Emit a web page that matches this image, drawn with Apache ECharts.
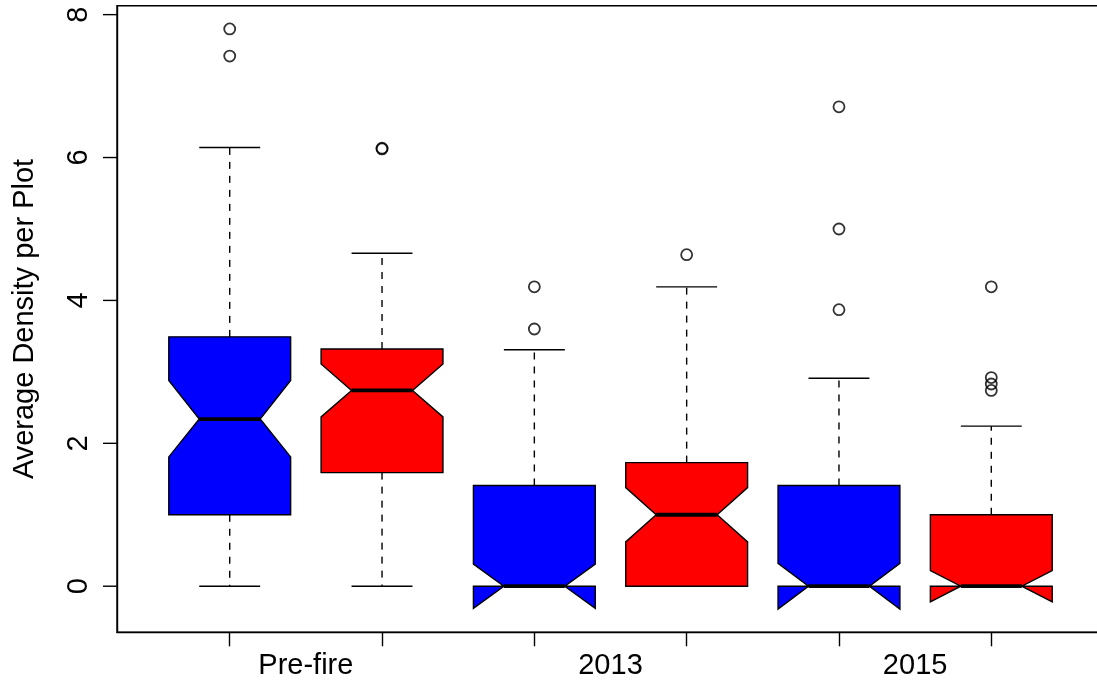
<!DOCTYPE html>
<html>
<head>
<meta charset="utf-8">
<script src="https://cdn.jsdelivr.net/npm/echarts@6/dist/echarts.min.js"></script>
<style>
  html, body { margin: 0; padding: 0; background: #fff; }
  #chart { width: 1097px; height: 685px; }
</style>
</head>
<body>
<div id="chart"></div>
<script>
// Group labels (one label per pair of boxes) and box statistics, in plotting order
const groupLabels = ['Pre-fire', '2013', '2015'];
const whiskerLow  = [0, 0, 0, 0, 0, 0];
const lowerQuart  = [1.00, 1.59, 0, 0, 0, 0];
const medians     = [2.34, 2.74, 0, 1.00, 0, 0];
const upperQuart  = [3.49, 3.32, 1.41, 1.73, 1.41, 1.00];
const whiskerHigh = [6.14, 4.66, 3.31, 4.19, 2.91, 2.24];
const notchLow    = [1.81, 2.37, -0.31, 0.62, -0.32, -0.22];
const notchHigh   = [2.88, 3.11, 0.31, 1.38, 0.32, 0.22];
const outliers    = [
  [7.80, 7.42],
  [6.13, 6.12],
  [4.19, 3.60],
  [4.64],
  [6.71, 5.00, 3.87],
  [4.19, 2.92, 2.83, 2.74]
];
const yTicks = [0, 2, 4, 6, 8];

// Styling
const fills = ['#0000FF', '#FF0000'];
const FONT = '"Liberation Sans", Arial, Helvetica, sans-serif';
const LW = 1.4;
const BOX_WIDTH = 0.8;
const TICK_LEN = 14;
const X_MIN = 0.26, X_MAX = 6.74;

const boxData = medians.map((m, i) => [
  i + 1, whiskerLow[i], lowerQuart[i], m, upperQuart[i], whiskerHigh[i], notchLow[i], notchHigh[i]
]);
const outlierData = [];
outliers.forEach((list, i) => list.forEach(v => outlierData.push([i + 1, v])));
const boxPositions = medians.map((_, i) => i + 1);
const labelPositions = groupLabels.map((_, g) => 2 * g + 1.5);

function renderBox(params, api) {
  const x = api.value(0);
  const wLo = api.value(1), q1 = api.value(2), med = api.value(3),
        q3 = api.value(4), wHi = api.value(5), nLo = api.value(6), nHi = api.value(7);
  const hw = api.size([BOX_WIDTH, 0])[0] / 2;
  const cx = api.coord([x, med])[0];
  const Y = v => api.coord([x, v])[1];
  const stroke = '#000';
  const fill = fills[params.dataIndex % 2];
  const children = [];
  // whiskers (dashed) and staples
  children.push({ type: 'line', shape: { x1: cx, y1: Y(q3), x2: cx, y2: Y(wHi) },
    style: { stroke, lineWidth: LW, lineDash: [7, 7] } });
  children.push({ type: 'line', shape: { x1: cx, y1: Y(q1), x2: cx, y2: Y(wLo) },
    style: { stroke, lineWidth: LW, lineDash: [7, 7] } });
  children.push({ type: 'line', shape: { x1: cx - hw / 2, y1: Y(wHi), x2: cx + hw / 2, y2: Y(wHi) },
    style: { stroke, lineWidth: LW } });
  children.push({ type: 'line', shape: { x1: cx - hw / 2, y1: Y(wLo), x2: cx + hw / 2, y2: Y(wLo) },
    style: { stroke, lineWidth: LW } });
  // notched box
  const pts = [
    [cx - hw, Y(q1)], [cx - hw, Y(nLo)], [cx - hw / 2, Y(med)], [cx - hw, Y(nHi)], [cx - hw, Y(q3)],
    [cx + hw, Y(q3)], [cx + hw, Y(nHi)], [cx + hw / 2, Y(med)], [cx + hw, Y(nLo)], [cx + hw, Y(q1)]
  ];
  children.push({ type: 'polygon', shape: { points: pts },
    style: { fill, stroke, lineWidth: LW, lineJoin: 'miter' } });
  // median
  children.push({ type: 'line', shape: { x1: cx - hw / 2, y1: Y(med), x2: cx + hw / 2, y2: Y(med) },
    style: { stroke, lineWidth: 3.8 } });
  return { type: 'group', children };
}

const chart = echarts.init(document.getElementById('chart'), null, { renderer: 'canvas' });
chart.setOption({
  animation: false,
  backgroundColor: '#fff',
  grid: {
    left: 117, right: -7, top: 5.7, bottom: 52.7,
    containLabel: false, outerBoundsMode: 'none',
    show: true, borderColor: '#000', borderWidth: LW, backgroundColor: 'transparent'
  },
  xAxis: {
    type: 'value', min: X_MIN, max: X_MAX,
    axisLine: { show: true, onZero: false, lineStyle: { color: '#000', width: LW } },
    splitLine: { show: false },
    axisTick: { show: true, length: TICK_LEN, lineStyle: { color: '#000', width: LW }, customValues: boxPositions },
    axisLabel: {
      customValues: labelPositions, margin: 19,
      formatter: v => groupLabels[Math.round((v - 1.5) / 2)],
      fontFamily: FONT, fontSize: 29, color: '#000'
    }
  },
  yAxis: {
    type: 'value', min: -0.645, max: 8.125,
    name: 'Average Density per Plot', nameLocation: 'middle', nameRotate: 90, nameGap: 78,
    nameTextStyle: { fontFamily: FONT, fontSize: 29, color: '#000' },
    axisLine: { show: true, onZero: false, lineStyle: { color: '#000', width: LW } },
    splitLine: { show: false },
    axisTick: { show: false },
    axisLabel: {
      customValues: yTicks, rotate: 90, margin: 24,
      fontFamily: FONT, fontSize: 29, color: '#000'
    }
  },
  series: [
    {
      type: 'custom',
      renderItem: renderBox,
      data: boxData,
      encode: { x: 0, y: [1, 2, 3, 4, 5, 6, 7] },
      clip: false,
      z: 2
    },
    {
      type: 'scatter',
      data: outlierData,
      symbol: 'circle',
      symbolSize: 11,
      itemStyle: { color: 'transparent', borderColor: '#000', borderWidth: 1.8 },
      z: 3
    }
  ]
});

// Outward tick marks on the left axis, placed through the chart's own value-to-pixel conversion
const tickGraphics = yTicks.map(v => {
  const p = chart.convertToPixel({ gridIndex: 0 }, [X_MIN, v]);
  return {
    type: 'line', silent: true, z: 100,
    shape: { x1: p[0] - TICK_LEN, y1: p[1], x2: p[0], y2: p[1] },
    style: { stroke: '#000', lineWidth: LW }
  };
});
chart.setOption({ graphic: { elements: tickGraphics } });
</script>
</body>
</html>
